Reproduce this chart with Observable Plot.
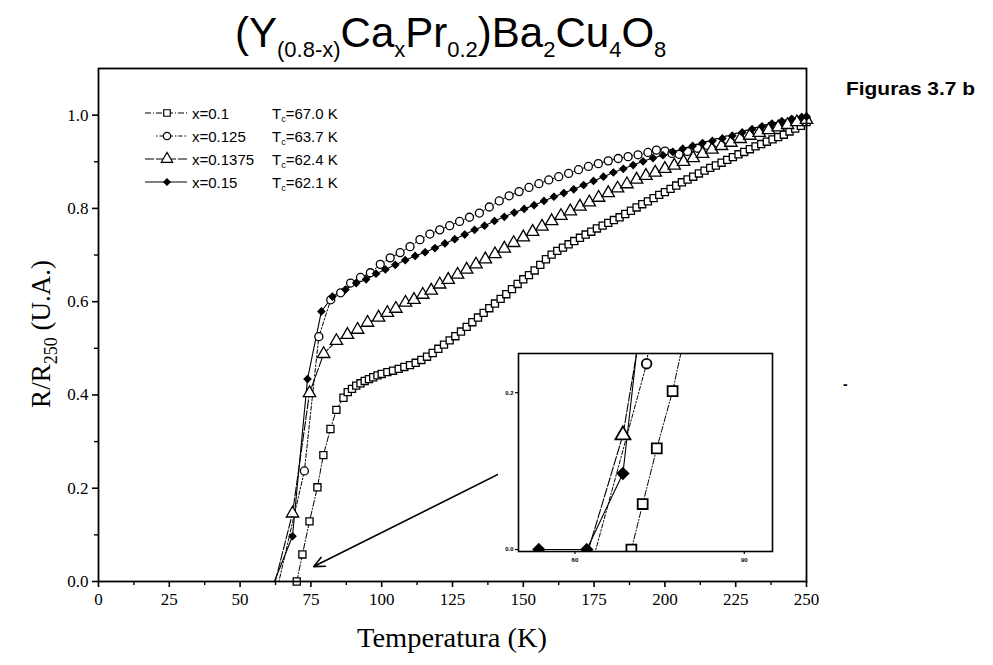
<!DOCTYPE html>
<html><head><meta charset="utf-8">
<script src="https://cdn.jsdelivr.net/npm/d3@7"></script>
<script src="https://cdn.jsdelivr.net/npm/@observablehq/plot@0.6"></script>
<style>
body{margin:0;background:#fff;}
#wrap{position:relative;width:993px;height:665px;overflow:hidden;background:#fff;}
#main{position:absolute;left:0;top:0;}
#inset{position:absolute;left:498px;top:351px;}
#overlay{position:absolute;left:0;top:0;pointer-events:none;}
</style></head>
<body><div id="wrap"><div id="main"></div><div id="inset"></div><svg id="overlay" width="993" height="665"></svg></div>
<script>
// ---------- data ----------
// x = 0.1 (squares)
const T01 = [70,72,74.5,77.3,79.4,81.9,84,86.5,88,89.5,91,92.5,94,95.5,97,98.5,100,102,104,106,108,110,112,114,116,118,120,122,124,126,128,130,132,134,136,138,140,142,144,146,148,150,152,154,156,158,160,162,164,166,168,170,172,174,176,178,180,182,184,186,188,190,192,194,196,198,200,202,204,206,208,210,212,214,216,218,220,222,224,226,228,230,232,234,236,238,240,242,244,246,248,250];
const V01 = [0,0.058,0.129,0.202,0.271,0.327,0.368,0.394,0.406,0.413,0.42,0.425,0.43,0.434,0.438,0.442,0.445,0.449,0.452,0.456,0.46,0.464,0.469,0.475,0.482,0.49,0.499,0.508,0.517,0.526,0.536,0.546,0.556,0.566,0.576,0.586,0.596,0.606,0.616,0.627,0.638,0.648,0.657,0.667,0.679,0.691,0.701,0.709,0.716,0.723,0.73,0.737,0.744,0.75,0.757,0.763,0.769,0.775,0.781,0.788,0.795,0.802,0.809,0.815,0.822,0.829,0.835,0.842,0.849,0.856,0.862,0.868,0.875,0.881,0.887,0.892,0.898,0.904,0.91,0.916,0.921,0.927,0.933,0.938,0.943,0.948,0.953,0.958,0.965,0.971,0.977,0.985];
// x = 0.125 (circles)
const T0125 = [63.7,72.7,77.8,82,85.5,89,92.5,96,99.5,103,106.5,110,113.5,117,120.5,124,127.5,131,134.5,138,141.5,145,148.5,152,155.5,159,162.5,166,169.5,173,176.5,180,183.5,187,190.5,194,197,200,202.5,205,208,211.5,215,218.5,222,225.5,229,232.5,236,239.5,243,246.5,250];
const V0125 = [0,0.237,0.525,0.604,0.619,0.64,0.652,0.662,0.68,0.694,0.705,0.718,0.733,0.745,0.754,0.763,0.772,0.781,0.79,0.803,0.816,0.827,0.836,0.845,0.853,0.861,0.868,0.875,0.883,0.89,0.896,0.902,0.907,0.911,0.915,0.92,0.925,0.923,0.918,0.916,0.922,0.929,0.935,0.941,0.947,0.953,0.959,0.965,0.971,0.976,0.981,0.986,0.99];
// x = 0.1375 (triangles)
const T01375 = [62.4,68.5,74.5,79.5,84,87.9,91.5,95,98.9,102,105,108.4,111.4,114.5,117.5,120.5,123.5,126.8,130,133.3,136.6,140,143.3,146.6,150,153.3,156.6,160,163.3,166.6,170,173.3,176.6,180,183.3,186.6,190,193.3,196.6,200,203.3,206.6,210,213.3,216.6,220,223.3,226.6,230,233.3,236.6,240,243.3,246.6,250];
const V01375 = [0,0.146,0.404,0.488,0.516,0.529,0.54,0.555,0.566,0.576,0.585,0.598,0.604,0.615,0.624,0.637,0.647,0.658,0.669,0.68,0.691,0.702,0.714,0.726,0.738,0.75,0.761,0.773,0.784,0.794,0.804,0.813,0.823,0.833,0.843,0.852,0.862,0.87,0.877,0.885,0.892,0.9,0.908,0.917,0.926,0.934,0.941,0.949,0.956,0.962,0.968,0.974,0.979,0.985,0.99];
// x = 0.15 (filled diamonds)
const T015 = [62.1,68.5,73.8,78.7,82.6,87.2,91,94.5,98,101.3,104.8,108.3,111.8,115.3,118.8,122.3,125.8,129.3,132.8,136.3,139.8,143.3,146.8,150.3,153.8,157.3,160.8,164.3,167.8,171.3,174.8,178.3,181.8,185.3,188.8,192.3,195.8,199.3,202.8,206.3,209.8,213.3,216.8,220.3,223.8,227.3,230.8,234.3,237.8,241.3,244.8,248.3,250];
const V015 = [0,0.097,0.434,0.579,0.611,0.626,0.64,0.648,0.66,0.669,0.679,0.689,0.698,0.706,0.715,0.725,0.734,0.744,0.754,0.763,0.773,0.782,0.791,0.799,0.807,0.816,0.825,0.833,0.841,0.85,0.859,0.868,0.877,0.885,0.893,0.901,0.908,0.914,0.921,0.928,0.934,0.94,0.945,0.95,0.956,0.963,0.97,0.976,0.982,0.987,0.992,0.996,0.997];
// extra low-temperature point only visible in the inset (x = 0.15)
const T015low = [53.6];
const V015low = [0];

const seriesNames = ["x=0.1","x=0.125","x=0.1375","x=0.15"];
const tcLabels = ["67.0","63.7","62.4","62.1"];

const xTicks = [0,25,50,75,100,125,150,175,200,225,250];
const xMinor = [12.5,37.5,62.5,87.5,112.5,137.5,162.5,187.5,212.5,237.5];
const yTicks = [0,0.2,0.4,0.6,0.8,1.0];
const yMinor = [0.1,0.3,0.5,0.7,0.9];
const insetXTicks = [60,90];
const insetYTicks = [0,0.2];
const arrowFrom = [145.5,0.243];
const arrowTo = [76,0.032];

// ---------- styles ----------
const styles = [
  {symbol:"square",   d3sym:d3.symbolSquare,   fill:"white", r:4,   rIn:5.6, dash:"6,2,1,2",   sw:1,   zeroMain:true,  zeroInset:true},
  {symbol:"circle",   d3sym:d3.symbolCircle,   fill:"white", r:4,   rIn:4.8, dash:"1.5,2,4,2", sw:1,   zeroMain:false, zeroInset:false},
  {symbol:"triangle", d3sym:d3.symbolTriangle, fill:"white", r:4.6, rIn:5.6, dash:"9,2",       sw:1.1, zeroMain:false, zeroInset:false},
  {symbol:"diamond2", d3sym:d3.symbolDiamond2, fill:"black", r:3.1, rIn:4.9, dash:null,        sw:1.1, zeroMain:false, zeroInset:true}
];
const rawT = [T01,T0125,T01375,T015];
const rawV = [V01,V0125,V01375,V015];
const data = rawT.map((Ts,i)=>Ts.map((t,j)=>({T:t, v:rawV[i][j]})));
const insetData = data.map((d,i)=> i===3 ? T015low.map((t,j)=>({T:t,v:V015low[j]})).concat(d) : d);

// ---------- main plot ----------
const marks = [];
data.forEach((d,i)=>{
  const s = styles[i];
  marks.push(Plot.line(d,{x:"T",y:"v",stroke:"black",strokeWidth:s.sw,strokeDasharray:s.dash}));
});
data.forEach((d,i)=>{
  const s = styles[i];
  const pts = d.filter(p=>p.v>0 || s.zeroMain);
  marks.push(Plot.dot(pts,{x:"T",y:"v",symbol:()=>s.symbol,r:s.r,fill:s.fill,stroke:"black",strokeWidth:1.3}));
});
marks.push(Plot.arrow([{x1:arrowFrom[0],y1:arrowFrom[1],x2:arrowTo[0],y2:arrowTo[1]}],{x1:"x1",y1:"y1",x2:"x2",y2:"y2",stroke:"black",strokeWidth:1.6,headLength:11,headAngle:50}));
marks.push(Plot.axisX(xTicks,{tickSize:6,tickPadding:5,strokeWidth:1.6,fontSize:17,tickFormat:d3.format("d")}));
marks.push(Plot.axisX(xMinor,{tickSize:4,strokeWidth:1.4,tickFormat:()=>""}));
marks.push(Plot.axisY(yTicks,{tickSize:6,tickPadding:4,strokeWidth:1.6,fontSize:17,tickFormat:d3.format(".1f")}));
marks.push(Plot.axisY(yMinor,{tickSize:4,strokeWidth:1.4,tickFormat:()=>""}));
marks.push(Plot.frame({stroke:"black",strokeWidth:1.8}));

const mainPlot = Plot.plot({
  width:993, height:665,
  marginLeft:98, marginRight:187, marginTop:68, marginBottom:84,
  x:{domain:[0,250], label:null},
  y:{domain:[0,1.1], label:null},
  symbol:{type:"identity"},
  style:{fontFamily:"'Liberation Serif', serif", fontSize:"17px", color:"black", background:"transparent"},
  marks
});
document.getElementById("main").appendChild(mainPlot);

// ---------- inset ----------
const imarks = [];
insetData.forEach((d,i)=>{
  const s = styles[i];
  imarks.push(Plot.line(d,{x:"T",y:"v",stroke:"black",strokeWidth:s.sw,strokeDasharray:s.dash,clip:true}));
});
insetData.forEach((d,i)=>{
  const s = styles[i];
  const pts = d.filter(p=>p.v>0 || s.zeroInset);
  imarks.push(Plot.dot(pts,{x:"T",y:"v",symbol:()=>s.symbol,r:s.rIn,fill:s.fill,stroke:"black",strokeWidth:1.8,clip:true}));
});
imarks.push(Plot.axisX(insetXTicks,{tickSize:3,tickPadding:3,strokeWidth:1.2,fontSize:6,fontWeight:"bold",tickFormat:d3.format("d")}));
imarks.push(Plot.axisY(insetYTicks,{tickSize:3,tickPadding:2,strokeWidth:1.2,fontSize:6,fontWeight:"bold",tickFormat:d3.format(".1f")}));
imarks.push(Plot.frame({stroke:"black",strokeWidth:1.6}));
const insetPlot = Plot.plot({
  width:276, height:216,
  marginLeft:20, marginRight:2, marginTop:2, marginBottom:16,
  x:{domain:[50,95], label:null},
  y:{domain:[-0.0025,0.25], label:null},
  symbol:{type:"identity"},
  style:{fontFamily:"'Liberation Sans', sans-serif", fontSize:"6px", color:"black", background:"white"},
  marks: imarks
});
document.getElementById("inset").appendChild(insetPlot);

// ---------- overlay: title, labels, legend ----------
const ov = d3.select("#overlay");
const sans = "'Liberation Sans', Arial, sans-serif";
const serif = "'Liberation Serif', 'Times New Roman', serif";

// title
const titleParts = [["(Y",0],["(0.8-x)",1],["Ca",0],["x",1],["Pr",0],["0.2",1],[")Ba",0],["2",1],["Cu",0],["4",1],["O",0],["8",1]];
const tt = ov.append("text").attr("x",235).attr("y",47)
  .attr("font-family",sans).attr("font-size",42).attr("fill","black");
let prevSub = 0;
titleParts.forEach(([t,sub])=>{
  const dy = sub && !prevSub ? 10 : (!sub && prevSub ? -10 : 0);
  tt.append("tspan").attr("dy",dy).attr("font-size",sub?22:42).text(t);
  prevSub = sub;
});

// Figuras label
ov.append("text").attr("x",846).attr("y",95).attr("font-family",sans).attr("font-weight","bold")
  .attr("font-size",19).attr("fill","black").attr("textLength",129).attr("lengthAdjust","spacingAndGlyphs").text("Figuras 3.7 b");

// axis titles
ov.append("text").attr("x",357).attr("y",647)
  .attr("font-family",serif).attr("font-size",27).attr("fill","black")
  .attr("textLength",190).attr("lengthAdjust","spacingAndGlyphs").text("Temperatura (K)");
const yl = ov.append("text").attr("transform","translate(50,334) rotate(-90)").attr("text-anchor","middle")
  .attr("font-family",serif).attr("font-size",27).attr("fill","black");
yl.append("tspan").text("R/R");
yl.append("tspan").attr("dy",7).attr("font-size",18).text("250");
yl.append("tspan").attr("dy",-7).text(" (U.A.)");

// legend
const legY = [113,136,159,182];
seriesNames.forEach((name,i)=>{
  const s = styles[i];
  const y = legY[i];
  ov.append("line").attr("x1",i===1?156:145).attr("x2",187).attr("y1",y).attr("y2",y)
    .attr("stroke","black").attr("stroke-width",s.sw).attr("stroke-dasharray",s.dash);
  ov.append("path").attr("d",d3.symbol(s.d3sym, Math.PI*s.r*s.r*0.85)())
    .attr("transform",`translate(167,${y})`).attr("fill",s.fill).attr("stroke","black").attr("stroke-width",1.2);
  ov.append("text").attr("x",192).attr("y",y+5.5).attr("font-family",sans).attr("font-size",15)
    .attr("fill","black").text(name);
  const tc = ov.append("text").attr("x",272).attr("y",y+5.5).attr("font-family",sans).attr("font-size",15).attr("fill","black");
  tc.append("tspan").text("T");
  tc.append("tspan").attr("dy",3).attr("font-size",9).text("c");
  tc.append("tspan").attr("dy",-3).text("=" + tcLabels[i] + " K");
});

// scan speck
ov.append("text").attr("x",843).attr("y",389).attr("font-family",sans).attr("font-size",14).attr("font-weight","bold").text("-");
</script>
</body></html>
